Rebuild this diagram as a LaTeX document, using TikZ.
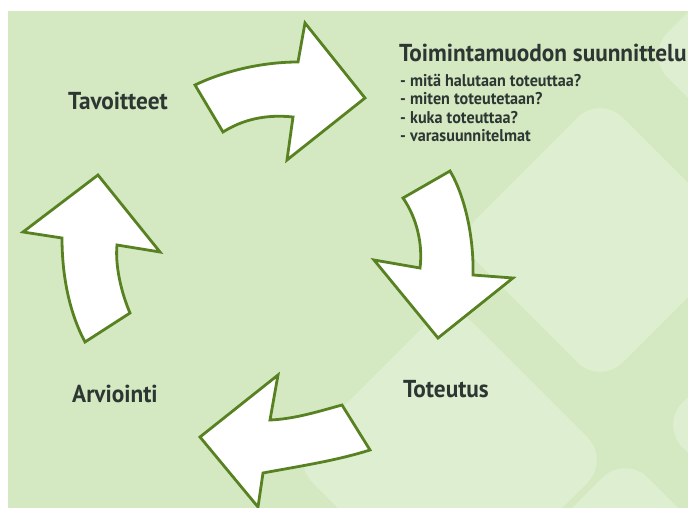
\documentclass[tikz,border=0pt]{standalone}
\usepackage{fontspec}
\setmainfont{PT Sans}[FakeStretch=0.95]
\definecolor{bgbase}{RGB}{212,233,193}
\definecolor{bglight}{RGB}{222,239,209}
\definecolor{arrowline}{RGB}{88,130,34}
\definecolor{txt}{RGB}{44,54,50}
\tikzset{
  bigarrow/.style={draw=arrowline, fill=white, line width=2.8pt, line join=miter},
  lightsq/.style={fill=bglight, rounded corners=32pt},
  heading/.style={inner sep=0pt, anchor=base west, text=txt, font=\fontsize{24.5}{24.5}\selectfont\bfseries},
  subitem/.style={inner sep=0pt, anchor=base west, text=txt, font=\fontsize{17}{17}\selectfont\bfseries}
}
\begin{document}
\begin{tikzpicture}[x=1pt, y=-1pt]
\useasboundingbox (0,0) rectangle (688,508);
\fill[white] (0,0) rectangle (688,508);
\begin{scope}
\clip (8,11) rectangle (688,508);
\fill[bgbase] (8,11) rectangle (688,508);
% light rounded squares in the background
\fill[lightsq] (455,240) -- (600,95) -- (745,240) -- (600,385) -- cycle;
\fill[lightsq] (645,55) -- (760,-60) -- (875,55) -- (760,170) -- cycle;
\fill[lightsq] (290,460) -- (450,300) -- (610,460) -- (450,620) -- cycle;
\fill[lightsq] (660,425) -- (800,285) -- (940,425) -- (800,565) -- cycle;
\fill[lightsq] (480,600) -- (625,455) -- (770,600) -- (625,745) -- cycle;
% arrows
\draw[bigarrow] (195,85) .. controls (222,72) and (260,62) .. (298,62)
  -- (305,23) -- (365,98) -- (287,160) -- (293,117)
  .. controls (265,114) and (242,120) .. (223,132) -- cycle;
\draw[bigarrow] (403,198) -- (450,171) .. controls (465,196) and (474,238) .. (473,275)
  -- (513,278) -- (438,338) -- (374,260) -- (420,268)
  .. controls (423,245) and (417,218) .. (403,198) -- cycle;
\draw[bigarrow] (342,405) .. controls (320,411) and (295,419) .. (270,420)
  -- (278,375) -- (200,437) -- (258,507) -- (263,473)
  .. controls (300,466) and (335,461) .. (370,450) -- cycle;
\draw[bigarrow] (85,342) -- (130,313) .. controls (121,292) and (115,265) .. (117,245)
  -- (160,252) -- (98,175) -- (23,232) -- (62,238)
  .. controls (62,275) and (69,312) .. (85,342) -- cycle;
\end{scope}
% texts
\node[heading] (tav) at (68,110) {Tavoitteet};
\node[heading] (toim) at (399,62) {Toimintamuodon suunnittelu};
\node[subitem] (q1) at (400,86.5) {- mitä halutaan toteuttaa?};
\node[subitem] (q2) at (400,105) {- miten toteutetaan?};
\node[subitem] (q3) at (400,123.5) {- kuka toteuttaa?};
\node[subitem] (q4) at (400,142) {- varasuunnitelmat};
\node[heading] (tot) at (403,397) {Toteutus};
\node[heading] (arv) at (72,402) {Arviointi};
\end{tikzpicture}
\end{document}
